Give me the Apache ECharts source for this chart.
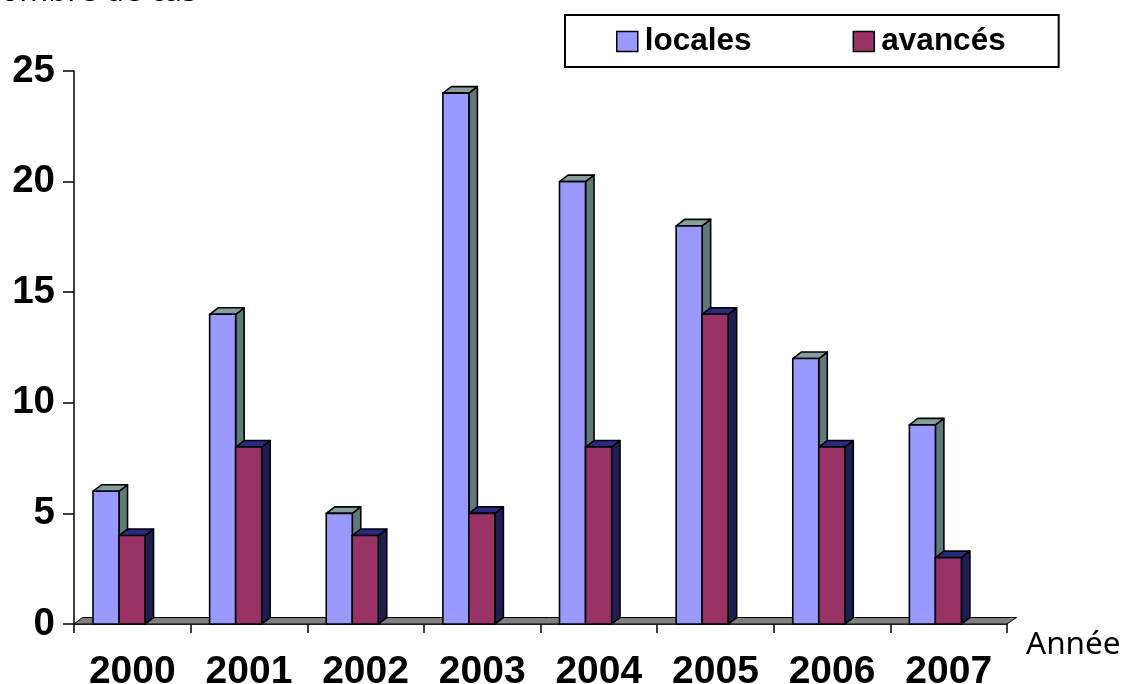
<!DOCTYPE html>
<html>
<head>
<meta charset="utf-8">
<script src="https://cdn.jsdelivr.net/npm/echarts@6/dist/echarts.min.js"></script>
<style>
  html, body { margin: 0; padding: 0; background: #fff; }
  #chart { width: 1125px; height: 684px; }
</style>
</head>
<body>
<div id="chart"></div>
<script>
// Années et nombre de cas par type
const years = ['2000', '2001', '2002', '2003', '2004', '2005', '2006', '2007'];
const locales = [6, 14, 5, 24, 20, 18, 12, 9];
const avances = [4, 8, 4, 5, 8, 14, 8, 3];
const yTicks = [0, 5, 10, 15, 20, 25];

// Pseudo-3D column: front face, top face and right side face
const DX = 8.5, DY = -6.5;
function column3D(slot, front, top, side) {
  return function (params, api) {
    const ci = api.value(0), v = api.value(1);
    const p0 = api.coord([ci, 0]);
    const p1 = api.coord([ci, v]);
    const bw = api.size([1, 0])[0];
    const w = bw * 0.223;
    const x0 = p0[0] - bw / 2 + bw * 0.163 + slot * w;
    const yb = p0[1], yt = p1[1];
    const line = { stroke: '#000', lineWidth: 1.6, lineJoin: 'round' };
    return {
      type: 'group',
      children: [
        { type: 'polygon', shape: { points: [[x0 + w, yt], [x0 + w + DX, yt + DY], [x0 + w + DX, yb + DY], [x0 + w, yb]] },
          style: Object.assign({ fill: side }, line) },
        { type: 'polygon', shape: { points: [[x0, yt], [x0 + DX, yt + DY], [x0 + w + DX, yt + DY], [x0 + w, yt]] },
          style: Object.assign({ fill: top }, line) },
        { type: 'rect', shape: { x: x0, y: yt, width: w, height: yb - yt },
          style: Object.assign({ fill: front }, line) }
      ]
    };
  };
}

// Grey floor under the columns
function floor(params, api) {
  const cs = params.coordSys;
  const yb = cs.y + cs.height;
  return {
    type: 'polygon',
    shape: { points: [[cs.x, yb], [cs.x + cs.width, yb], [cs.x + cs.width + DX + 1, yb + DY], [cs.x + DX, yb + DY]] },
    style: { fill: '#808080', stroke: '#000', lineWidth: 1 }
  };
}

const chart = echarts.init(document.getElementById('chart'));
chart.setOption({
  animation: false,
  backgroundColor: '#fff',
  grid: { left: 74, right: 118, top: 71, bottom: 60, containLabel: false, outerBoundsMode: 'none' },
  legend: {
    left: 565, top: 15,
    padding: [9, 53, 8, 51],
    itemWidth: 21, itemHeight: 20, itemGap: 101,
    borderColor: '#000', borderWidth: 2,
    icon: 'rect',
    textStyle: { fontFamily: 'Liberation Sans', fontWeight: 'bold', fontSize: 31.5, color: '#000', lineHeight: 30, padding: [5, 0, 0, 2] },
    data: [
      { name: 'locales', itemStyle: { color: '#9999FF', borderColor: '#000', borderWidth: 1.5 } },
      { name: 'avancés', itemStyle: { color: '#993366', borderColor: '#000', borderWidth: 1.5 } }
    ]
  },
  xAxis: {
    type: 'category',
    data: years,
    boundaryGap: true,
    name: 'Année',
    nameLocation: 'end',
    nameGap: 19,
    nameTextStyle: { fontFamily: 'Noto Sans', fontSize: 31.5, color: '#000', align: 'left', verticalAlign: 'top', padding: [3, 0, 0, 0], lineHeight: 36 },
    axisLine: { show: true, lineStyle: { color: '#000', width: 1.5 } },
    axisTick: { show: true, length: 9, alignWithLabel: false, lineStyle: { color: '#000', width: 1.5 } },
    axisLabel: { fontFamily: 'Liberation Sans', fontWeight: 'bold', fontSize: 39, color: '#000', margin: 29 },
    splitLine: { show: false }
  },
  yAxis: {
    type: 'value',
    min: yTicks[0], max: yTicks[yTicks.length - 1], interval: 5,
    axisLine: { show: true, lineStyle: { color: '#000', width: 1.5 } },
    axisTick: { show: true, length: 11, lineStyle: { color: '#000', width: 1.5 } },
    axisLabel: { fontFamily: 'Liberation Sans', fontWeight: 'bold', fontSize: 38.5, color: '#000', margin: 19 },
    splitLine: { show: false }
  },
  graphic: [
    { type: 'text', x: -23, y: 8, z: 100,
      style: { text: 'Nombre de cas', font: '31px "Noto Sans"', fill: '#000', verticalAlign: 'bottom', align: 'left' } }
  ],
  series: [
    { type: 'custom', name: 'floor', renderItem: floor, data: [[0, 0]], silent: true, z: 1 },
    { type: 'custom', name: 'locales', renderItem: column3D(0, '#9999FF', '#859F9F', '#5F7A78'),
      itemStyle: { color: '#9999FF' }, data: locales.map((v, i) => [i, v]), z: 2,
      encode: { x: 0, y: 1 } },
    { type: 'custom', name: 'avancés', renderItem: column3D(1, '#993366', '#2A2A80', '#1E1E52'),
      itemStyle: { color: '#993366' }, data: avances.map((v, i) => [i, v]), z: 3,
      encode: { x: 0, y: 1 } }
  ]
});
</script>
</body>
</html>
